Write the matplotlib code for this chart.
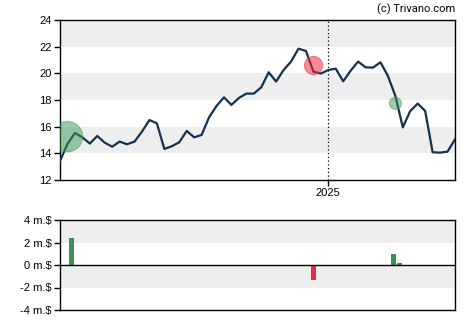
import numpy as np
import pandas as pd
import matplotlib
matplotlib.use('Agg')
import matplotlib.pyplot as plt
import matplotlib.dates as mdates

plt.rcParams['font.family'] = ['Liberation Sans', 'DejaVu Sans']

# weekly closing prices
dates = pd.date_range('2024-04-24', periods=54, freq='7D')
prices = [13.43, 14.70, 15.53, 15.20, 14.73, 15.30, 14.80, 14.50, 14.88, 14.68,
          14.88, 15.63, 16.50, 16.25, 14.33, 14.53, 14.83, 15.68, 15.20, 15.38,
          16.70, 17.55, 18.20, 17.63, 18.15, 18.48, 18.48, 18.95, 20.08, 19.38,
          20.25, 20.88, 21.85, 21.68, 20.13, 19.98, 20.25, 20.35, 19.40, 20.20,
          20.88, 20.45, 20.43, 20.83, 19.80, 18.30, 15.95, 17.18, 17.73, 17.18,
          14.08, 14.05, 14.13, 15.05]

# insider trades: bubble markers on the price chart
buy_dates = pd.to_datetime(['2024-05-01', '2025-03-05'])
buy_prices = [15.25, 17.75]
buy_sizes = [480, 75]
sell_dates = pd.to_datetime(['2024-12-18'])
sell_prices = [20.63]
sell_sizes = [170]

# net trade volume in million $
vol_dates = pd.to_datetime(['2024-05-05', '2024-12-18', '2025-03-03', '2025-03-09'])
vol_values = [2.4, -1.37, 1.0, 0.15]

fig = plt.figure(figsize=(4.7, 3.25), dpi=100)
ax = fig.add_axes([60/470, 1 - 180/325, 395/470, 160/325])
ax2 = fig.add_axes([60/470, 1 - 310/325, 395/470, 90/325])

x0 = dates[0] - pd.Timedelta(days=0)
x1 = dates[-1]

# price chart
for lo in (14, 18, 22):
    ax.axhspan(lo, lo + 2, color='#eeeeee', lw=0, zorder=0)
ax.plot(dates, prices, color='#13324f', lw=1.6, zorder=3)
ax.scatter(buy_dates, buy_prices, s=buy_sizes, color='#3a9a55', alpha=0.5, lw=0.8,
           edgecolors='#3a9a55', zorder=4)
ax.scatter(sell_dates, sell_prices, s=sell_sizes, color='#f03040', alpha=0.55, lw=0.8,
           edgecolors='#f03040', zorder=4)
ax.axvline(pd.Timestamp('2025-01-01'), color='black', ls=(0, (1, 2)), lw=0.9, zorder=2)
ax.set_xlim(x0, x1)
ax.set_ylim(12, 24)
ax.set_yticks(range(12, 25, 2))
ax.set_xticks([pd.Timestamp('2025-01-01')])
ax.xaxis.set_major_formatter(mdates.DateFormatter('%Y'))
ax.text(1.0, 1.03, '(c) Trivano.com', transform=ax.transAxes, ha='right', va='bottom',
        fontsize=8, family=['Roboto', 'DejaVu Sans'])

# volume chart
for lo in (2, -2):
    ax2.axhspan(lo, lo + 2, color='#eeeeee', lw=0, zorder=0)
colors = ['#3a9358' if v > 0 else '#f02840' for v in vol_values]
ax2.bar(vol_dates, vol_values, width=4.5, color=colors, zorder=3)
ax2.axhline(0, color='black', lw=1, zorder=4)
ax2.set_xlim(x0, x1)
ax2.set_ylim(-4, 4)
ax2.set_yticks(range(-4, 5, 2))
ax2.set_yticklabels([f'{v} m.$' for v in range(-4, 5, 2)])
ax2.set_xticks([])

for a in (ax, ax2):
    for s in a.spines.values():
        s.set_linewidth(1)
    a.tick_params(labelsize=8, length=4, width=1, pad=2, colors='black')

fig.savefig('out.png', dpi=100)
